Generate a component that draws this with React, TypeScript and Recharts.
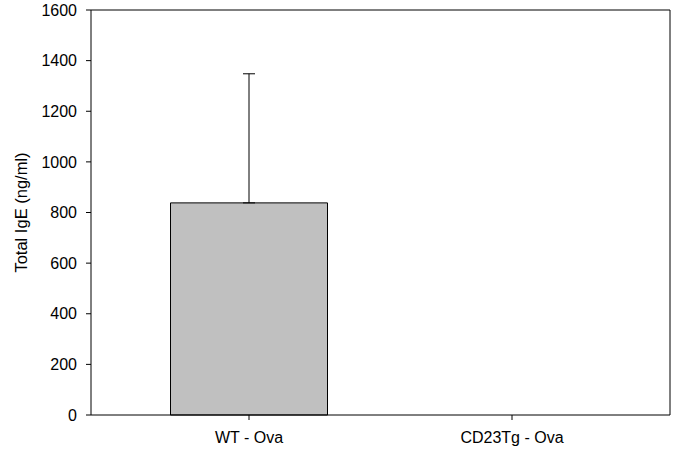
import React from 'react';
import { BarChart, Bar, XAxis, YAxis, ErrorBar, Label, CartesianGrid } from 'recharts';

// Total IgE per group (ng/ml), upper SD only
const groups = ['WT - Ova', 'CD23Tg - Ova'];
const igeMeans = [838, 0];
const igeErrors = [510, null];
const yTicks = [0, 200, 400, 600, 800, 1000, 1200, 1400, 1600];

const data = groups.map((group, i) => ({
  group,
  ige: igeMeans[i],
  err: igeErrors[i] == null ? null : [0, igeErrors[i]],
}));

const font = '"Liberation Sans", Arial, sans-serif';
const tickStyle = { fill: '#000', fontSize: 16, fontFamily: font };

// grid used only to close the frame: top and right edges of the plot
const topEdge = ({ offset }) => [offset.top];
const rightEdge = ({ offset }) => [offset.left + offset.width];

export default function App() {
  return (
    <div style={{ position: 'absolute', left: 0, top: 0, background: '#fff' }}>
      <BarChart
        width={680}
        height={452}
        data={data}
        margin={{ top: 10, right: 10, bottom: 0, left: 0 }}
      >
        <CartesianGrid
          stroke="#000"
          strokeWidth={1}
          horizontalCoordinatesGenerator={topEdge}
          verticalCoordinatesGenerator={rightEdge}
        />
        <XAxis
          dataKey="group"
          height={37}
          interval={0}
          padding={{ left: 26.5, right: 26.5 }}
          tickSize={5}
          tickMargin={12}
          tick={tickStyle}
          axisLine={{ stroke: '#000', strokeWidth: 1 }}
          tickLine={{ stroke: '#000', strokeWidth: 1 }}
        />
        <YAxis
          width={91}
          domain={[0, 1600]}
          ticks={yTicks}
          interval={0}
          tickSize={5}
          tickMargin={9}
          tick={tickStyle}
          axisLine={{ stroke: '#000', strokeWidth: 1 }}
          tickLine={{ stroke: '#000', strokeWidth: 1 }}
        >
          <Label
            value="Total IgE (ng/ml)"
            angle={-90}
            position="insideLeft"
            offset={21}
            style={{ textAnchor: 'middle', fill: '#000', fontSize: 16.5, fontFamily: font }}
          />
        </YAxis>
        <Bar
          dataKey="ige"
          fill="#c0c0c0"
          stroke="#000"
          strokeWidth={1}
          barSize={157}
          isAnimationActive={false}
        >
          <ErrorBar
            dataKey="err"
            direction="y"
            width={6}
            stroke="#000"
            strokeWidth={1}
            isAnimationActive={false}
          />
        </Bar>
      </BarChart>
    </div>
  );
}
